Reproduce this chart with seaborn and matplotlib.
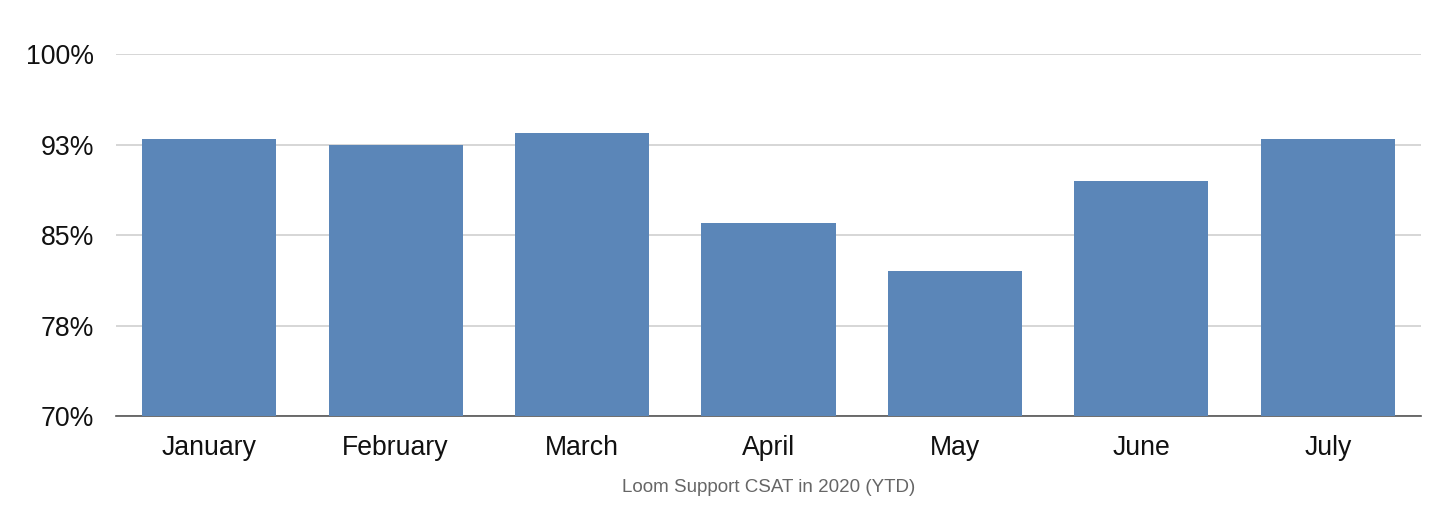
import matplotlib
matplotlib.use("Agg")
import matplotlib.pyplot as plt
import pandas as pd
import seaborn as sns

months = ["January", "February", "March", "April", "May", "June", "July"]
csat = [93.0, 92.5, 93.5, 86.0, 82.0, 89.5, 93.0]
ytick_values = [70, 77.5, 85, 92.5, 100]
ytick_labels = ["70%", "78%", "85%", "93%", "100%"]
caption = "Loom Support CSAT in 2020 (YTD)"

sns.set_style("white")
plt.rcParams["font.family"] = ["Liberation Sans", "DejaVu Sans"]

df = pd.DataFrame({"month": months, "csat": csat})

fig = plt.figure(figsize=(14.45, 5.2), dpi=100)
ax = fig.add_axes([0.0803, 0.2, 0.9031, 0.6956])

sns.barplot(data=df, x="month", y="csat", color="#5b86b8", saturation=1,
            width=0.72, linewidth=0, ax=ax, zorder=3)

ax.set_ylim(70, 100)
ax.set_xlim(-0.5, 6.5)
ax.set_yticks(ytick_values)
ax.set_yticklabels(ytick_labels)
ax.yaxis.grid(True, color="#cccccc", linewidth=1.1, zorder=0)
ax.xaxis.grid(False)
ax.set_axisbelow(True)

for side in ["top", "right", "left"]:
    ax.spines[side].set_visible(False)
ax.spines["bottom"].set_color("#555555")
ax.spines["bottom"].set_linewidth(1.2)

ax.tick_params(axis="y", length=0, pad=16, labelsize=19.2, labelcolor="#111111")
ax.tick_params(axis="x", length=0, pad=14, labelsize=19.2, labelcolor="#111111")
ax.set_xlabel(caption, fontsize=13.5, color="#666666", labelpad=13)
ax.set_ylabel("")

fig.savefig("out.png", dpi=100)
